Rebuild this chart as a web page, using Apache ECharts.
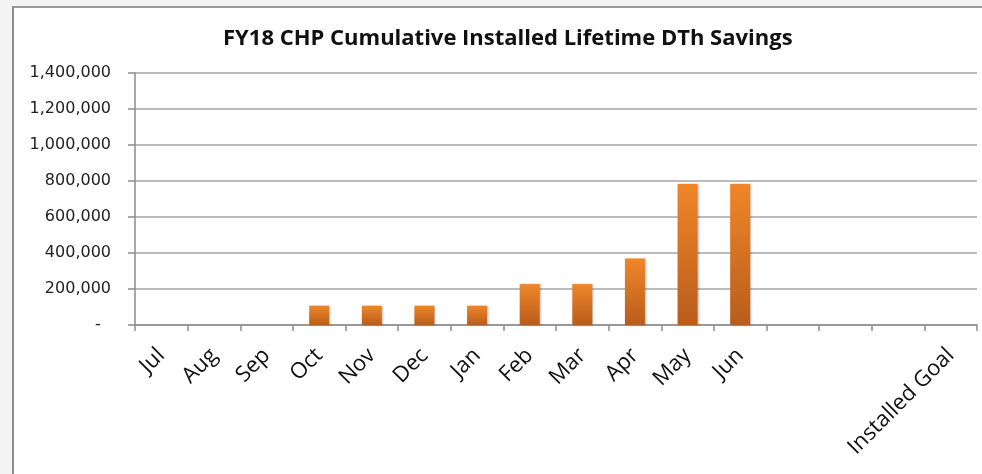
<!DOCTYPE html>
<html>
<head>
<meta charset="utf-8">
<script src="https://cdn.jsdelivr.net/npm/echarts@6/dist/echarts.min.js"></script>
<style>
  html, body { margin: 0; padding: 0; width: 982px; height: 474px; overflow: hidden; background: #f3f3f3; }
  #frame { position: absolute; left: 12px; top: 6px; width: 1000px; height: 500px; background: #ffffff;
           border-left: 2px solid #8e8e8e; border-top: 2px solid #9a9a9a; }
  #chart { position: absolute; left: 0; top: 0; width: 982px; height: 474px; }
</style>
</head>
<body>
<div id="frame"></div>
<div id="chart"></div>
<script>
// Fiscal-year months plus spacer slots and the goal column
const categories = ['Jul', 'Aug', 'Sep', 'Oct', 'Nov', 'Dec', 'Jan', 'Feb', 'Mar', 'Apr', 'May', 'Jun', '', '', '', 'Installed Goal'];
// Cumulative installed lifetime DTh savings
const savings = [null, null, null, 107000, 107000, 107000, 107000, 227000, 227000, 369000, 783000, 783000, null, null, null, null];
// Value axis range
const yMin = 0;
const yMax = 1400000;
const yStep = 200000;

const chart = echarts.init(document.getElementById('chart'), null, { renderer: 'canvas' });

chart.setOption({
  backgroundColor: 'transparent',
  animation: false,
  title: {
    text: 'FY18 CHP Cumulative Installed Lifetime DTh Savings',
    left: 218,
    top: 23,
    textStyle: { fontFamily: 'Open Sans', fontWeight: 'bold', fontSize: 22, color: '#111' }
  },
  grid: { left: 135, right: 5, top: 73, bottom: 149, containLabel: false },
  xAxis: {
    type: 'category',
    data: categories,
    boundaryGap: true,
    axisLine: { lineStyle: { color: '#8c8c8c', width: 1.5 } },
    axisTick: { show: true, length: 6, interval: 0, lineStyle: { color: '#8c8c8c', width: 1.5 } },
    axisLabel: {
      interval: 0,
      rotate: 45,
      margin: 27,
      fontFamily: 'Open Sans',
      fontSize: 22,
      color: '#111'
    }
  },
  yAxis: {
    type: 'value',
    min: yMin,
    max: yMax,
    interval: yStep,
    axisLine: { show: true, lineStyle: { color: '#8c8c8c', width: 1.5 } },
    axisTick: { show: true, length: 7, lineStyle: { color: '#8c8c8c', width: 1.5 } },
    splitLine: { lineStyle: { color: '#a6a6a6', width: 1.5 } },
    axisLabel: {
      margin: 24,
      fontFamily: 'DejaVu Sans',
      fontSize: 16,
      color: '#222',
      formatter: v => v === 0 ? '-  ' : v.toLocaleString('en-US')
    }
  },
  series: [{
    type: 'bar',
    data: savings,
    barWidth: '38%',
    itemStyle: {
      color: new echarts.graphic.LinearGradient(0, 0, 0, 1, [
        { offset: 0, color: '#f08628' },
        { offset: 1, color: '#b85d1c' }
      ]),
      shadowColor: 'rgba(0,0,0,0.25)',
      shadowBlur: 2,
      shadowOffsetX: 1,
      shadowOffsetY: 0
    }
  }]
});
</script>
</body>
</html>
